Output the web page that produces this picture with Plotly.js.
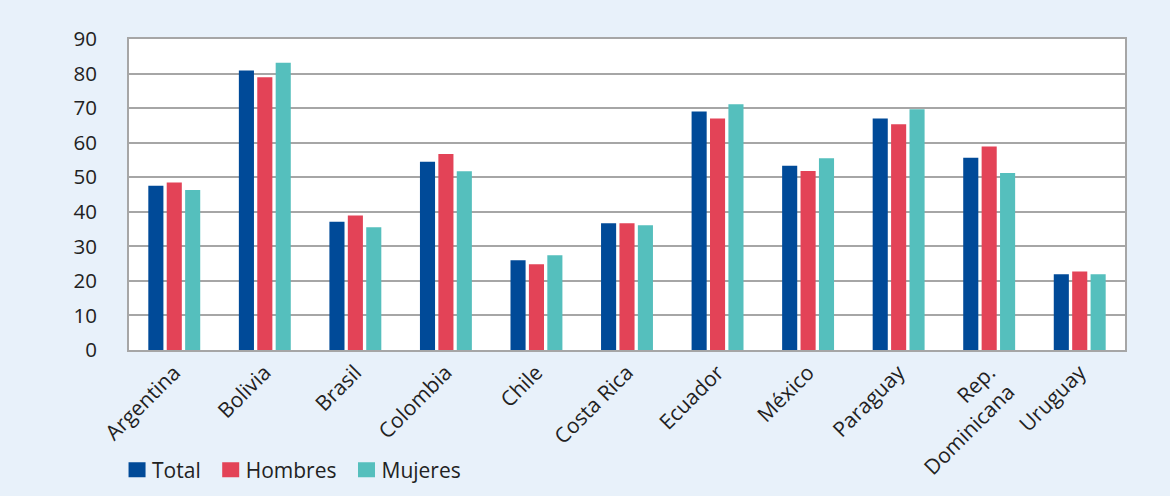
<!DOCTYPE html>
<html>
<head>
<meta charset="utf-8">
<script src="https://cdn.plot.ly/plotly-3.0.1.min.js"></script>
<style>
html,body{margin:0;padding:0;background:#E8F1FA;}
#chart{width:1170px;height:496px;}
</style>
</head>
<body>
<div id="chart"></div>
<script>
const categories = ["Argentina","Bolivia","Brasil","Colombia","Chile","Costa Rica","Ecuador","México","Paraguay","Rep.<br>Dominicana","Uruguay"];
const total    = [47.5, 80.9, 37.1, 54.5, 26.0, 36.7, 69.0, 53.3, 67.0, 55.6, 21.9];
const hombres  = [48.5, 78.9, 38.9, 56.7, 24.8, 36.7, 67.0, 51.8, 65.3, 58.9, 22.7];
const mujeres  = [46.3, 83.1, 35.5, 51.7, 27.4, 36.1, 71.1, 55.5, 69.7, 51.2, 21.9];
const yTicks = [0,10,20,30,40,50,60,70,80,90];

const font = {family: "Open Sans, Noto Sans, sans-serif", size: 21, color: "#222"};
const yfont = {family: "Open Sans, Noto Sans, sans-serif", size: 20.5, color: "#222"};
const traces = [
  {type:"bar", name:"Total", x:categories, y:total, marker:{color:"#004A98"}},
  {type:"bar", name:"Hombres", x:categories, y:hombres, marker:{color:"#E34357"}},
  {type:"bar", name:"Mujeres", x:categories, y:mujeres, marker:{color:"#55BFBD"}}
];
const layout = {
  width:1170, height:496,
  paper_bgcolor:"#E8F1FA", plot_bgcolor:"#FFFFFF",
  margin:{l:129, r:45, t:39, b:146, autoexpand:false},
  font: font,
  barmode:"group", bargap:0.39, bargroupgap:0.18,
  showlegend:true,
  legend:{orientation:"h", x:-0.012, xanchor:"left", y:-0.386, yanchor:"middle",
          font:font, bgcolor:"rgba(0,0,0,0)", itemwidth:30, tracegroupgap:0},
  xaxis:{tickangle:-45, showline:true, linecolor:"#A6A6A6", linewidth:2, mirror:true,
         showgrid:false, ticks:"", tickfont:font, fixedrange:true, automargin:false},
  yaxis:{range:[0,90], tickvals:yTicks, ticktext:yTicks.map(String), showline:true,
         linecolor:"#A6A6A6", linewidth:2, mirror:true, gridcolor:"#A6A6A6", gridwidth:2,
         zeroline:false, ticks:"", ticklabelstandoff:26, tickfont:yfont, fixedrange:true,
         automargin:false}
};
Plotly.newPlot("chart", traces, layout, {displayModeBar:false, staticPlot:true}).then(function(gd){
  gd.querySelectorAll(".legend .legendpoints path").forEach(function(p){
    p.setAttribute("d", "M8.5,7.5H-8.5V-7.5H8.5Z");
  });
  gd.querySelectorAll(".legend text.legendtext").forEach(function(t){
    const x = parseFloat(t.getAttribute("x")) || 0;
    t.setAttribute("x", x - 5);
  });
});
</script>
</body>
</html>
